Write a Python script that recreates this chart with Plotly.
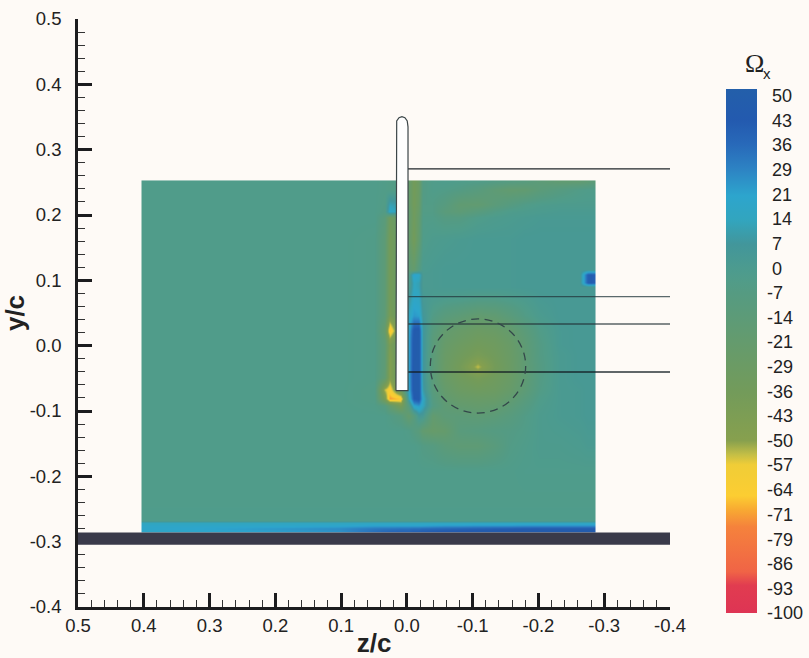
import plotly.graph_objects as go

# field coordinates (z/c across, y/c down the rows)
field_z = [0.4027, 0.4012, 0.3145, 0.1929, 0.1017, 0.0485, 0.0333, 0.0257, 0.0090, -0.0032, -0.0093,
           -0.0169, -0.0245, -0.0382, -0.0579, -0.0807, -0.1081, -0.1339, -0.1567, -0.1795, -0.2023,
           -0.2327, -0.2631, -0.2753, -0.2799, -0.2844, -0.2859]
field_y = [0.2521, 0.2506, 0.2384, 0.2154, 0.2047, 0.1955, 0.1618, 0.1159, 0.1097, 0.0960, 0.0899,
           0.0700, 0.0455, 0.0240, 0.0118, 0.0011, -0.0142, -0.0311, -0.0494, -0.0678, -0.0801,
           -0.0908, -0.1061, -0.1291, -0.1520, -0.1903, -0.2362, -0.2668, -0.2706, -0.2745, -0.2791,
           -0.2837, -0.2852]

# vorticity estimates; edge rows and columns repeat so that the field ends at its true border
omega_rows = [
 [-3,-3,-3,-3,-3,-4,-5,-5,-22,-36,-28,-6,-3,-2,-3,-4,-6,-8,-10,-14,-18,-18,-16,-14,-14],
 [-3,-3,-3,-3,-3,-4,-5,-5,-22,-36,-28,-6,-3,-2,-3,-4,-6,-8,-10,-14,-18,-18,-16,-14,-14],
 [-3,-3,-3,-3,-3,-4,-5,-5,-22,-36,-28,-6,-3,-4,-6,-10,-16,-20,-19,-13,-8,-4,-3,-3,-3],
 [-3,-3,-3,-3,-3,-5,12,8,-22,-36,-26,-5,-5,-9,-18,-19,-13,-8,-4,-2,-1,-1,-1,-1,-1],
 [-3,-3,-3,-3,-3,-6,18,10,-20,-34,-24,-5,-5,-12,-15,-10,-5,-2,-1,0,1,1,1,1,1],
 [-3,-3,-3,-3,-3,-12,-32,-20,-20,-34,-22,-4,-4,-7,-7,-3,-1,0,1,2,2,2,2,2,2],
 [-3,-3,-3,-3,-4,-15,-37,-24,-22,-36,-20,-3,-1,0,1,2,2,2,3,3,3,3,3,3,3],
 [-3,-3,-3,-3,-4,-15,-37,-24,-16,-22,-8,0,1,2,2,2,2,2,3,3,3,3,3,3,3],
 [-3,-3,-3,-3,-4,-15,-37,-24,-6,22,18,1,1,2,2,2,2,2,3,3,3,3,40,42,40],
 [-3,-3,-3,-3,-4,-15,-37,-24,-4,15,12,1,1,2,2,2,2,2,3,3,3,3,40,42,40],
 [-3,-3,-3,-3,-4,-15,-37,-24,-2,15,12,1,1,2,2,2,2,2,3,3,3,3,3,3,3],
 [-3,-3,-3,-3,-4,-15,-37,-24,6,18,16,3,0,-2,-3,-5,-5,-3,-1,2,3,3,3,3,3],
 [-3,-3,-3,-3,-4,-15,-40,-24,14,24,22,6,-5,-11,-15,-20,-18,-12,-5,0,3,3,3,3,3],
 [-3,-3,-3,-3,-4,-22,-68,-28,18,45,47,8,-10,-20,-25,-29,-27,-22,-13,-4,2,3,3,3,3],
 [-3,-3,-3,-3,-4,-18,-52,-24,20,46,48,8,-12,-22,-27,-32,-30,-24,-15,-5,2,3,3,3,3],
 [-3,-3,-3,-3,-4,-16,-42,-22,20,47,48,8,-12,-24,-30,-35,-32,-26,-16,-6,2,3,3,3,3],
 [-3,-3,-3,-3,-4,-16,-45,-22,20,47,48,8,-13,-26,-33,-40,-34,-27,-17,-6,1,3,3,3,3],
 [-3,-3,-3,-3,-4,-16,-47,-22,20,48,48,8,-13,-27,-37,-54,-37,-28,-17,-7,1,3,3,3,3],
 [-3,-3,-3,-3,-4,-18,-47,-22,20,48,48,8,-13,-26,-33,-39,-33,-27,-17,-6,1,3,3,3,3],
 [-3,-3,-3,-3,-5,-54,-62,-28,18,48,48,10,-11,-22,-29,-32,-30,-24,-15,-5,1,2,3,3,3],
 [-3,-3,-3,-3,-5,-40,-72,-66,12,42,46,16,-8,-19,-24,-26,-25,-19,-11,-3,1,2,3,3,3],
 [-3,-3,-3,-3,-4,-8,-20,-38,-8,20,24,14,-6,-16,-20,-22,-20,-15,-8,-2,1,2,3,3,3],
 [-3,-3,-3,-3,-3,-3,-5,-10,-22,-10,4,3,-20,-14,-14,-16,-14,-10,-5,-1,1,2,3,3,3],
 [-3,-3,-3,-3,-3,-3,-3,-3,-4,-8,-12,-20,-24,-22,-11,-9,-7,-6,-4,-1,0,1,2,2,2],
 [-3,-3,-3,-3,-3,-3,-3,-3,-3,-3,-4,-6,-8,-13,-16,-16,-11,-5,-3,-1,-1,0,1,1,1],
 [-3,-3,-3,-3,-3,-3,-3,-3,-3,-3,-3,-3,-3,-3,-3,-3,-3,-3,-2,-2,-2,-2,-2,-2,-2],
 [-3,-3,-3,-3,-3,-3,-3,-3,-3,-3,-3,-3,-3,-3,-3,-3,-3,-3,-3,-3,-3,-3,-3,-3,-3],
 [-2,-2,-2,-2,-2,-2,-2,-2,-2,-2,-2,-2,-2,-2,-2,-2,-2,-2,-2,-2,-2,-2,-2,-2,-2],
 [14,14,14,14,14,14,14,14,14,14,14,14,14,14,14,14,14,14,14,14,14,14,14,14,14],
 [18,18,19,20,22,22,22,22,22,22,22,22,23,24,24,25,25,25,26,26,26,26,26,26,26],
 [19,21,24,27,32,33,33,34,34,35,35,36,37,38,39,40,41,42,43,44,44,44,44,44,44],
 [18,19,22,25,34,36,37,38,38,40,40,41,42,44,45,46,46,46,46,46,46,46,46,46,46],
 [18,19,22,25,34,36,37,38,38,40,40,41,42,44,45,46,46,46,46,46,46,46,46,46,46],
]
omega = [[r[0]] + r + [r[-1]] for r in omega_rows]

scale_values = [-100, -92, -88, -75, -70, -66, -57, -54, -50, -36, -21, -7, -3, 0, 7, 14, 21, 29, 36, 43, 52]
scale_colors = ["rgb(222,52,84)", "rgb(225,60,80)", "rgb(240,100,70)", "rgb(245,130,60)", "rgb(248,170,50)",
                "rgb(252,205,50)", "rgb(240,205,55)", "rgb(195,190,70)", "rgb(135,160,78)", "rgb(115,155,90)",
                "rgb(100,155,110)", "rgb(85,155,130)", "rgb(80,156,138)", "rgb(76,155,143)", "rgb(66,150,155)",
                "rgb(50,165,190)", "rgb(45,165,205)", "rgb(45,130,195)", "rgb(40,105,185)", "rgb(35,90,175)",
                "rgb(35,95,170)"]
z_min, z_max = scale_values[0], scale_values[-1]
colorscale = [[(v - z_min) / (z_max - z_min), c] for v, c in zip(scale_values, scale_colors)]

bar_ticks = [50, 42.9, 35.7, 28.6, 21.4, 14.3, 7.1, 0, -7.1, -14.3, -21.4, -28.6, -35.7, -42.9, -50,
             -57.1, -64.3, -71.4, -78.6, -85.7, -92.9, -100]
bar_labels = ["\u00a050", "\u00a043", "\u00a036", "\u00a029", "\u00a021", "\u00a014", "\u00a07", "\u00a00",
              "-7", "-14", "-21", "-29", "-36", "-43", "-50",
              "-57", "-64", "-71", "-79", "-86", "-93", "-100"]

x_ticks = [0.5, 0.4, 0.3, 0.2, 0.1, 0.0, -0.1, -0.2, -0.3, -0.4]
x_labels = ["0.5", "0.4", "0.3", "0.2", "0.1", "0.0", "-0.1", "-0.2", "-0.3", "-0.4"]
y_ticks = [0.5, 0.4, 0.3, 0.2, 0.1, 0.0, -0.1, -0.2, -0.3, -0.4]
y_labels = ["0.5", "0.4", "0.3", "0.2", "0.1", "0.0", "-0.1", "-0.2", "-0.3", "-0.4"]

ground_z = [0.5, -0.4, -0.4, 0.5, 0.5]
ground_y = [-0.2860, -0.2860, -0.3049, -0.3049, -0.2860]

wing_z = [0.0166, 0.0166, 0.0155, 0.0120, 0.0075, 0.0030, -0.0005, -0.0017, -0.0017, 0.0166]
wing_y = [-0.0689, 0.3350, 0.3440, 0.3490, 0.3505, 0.3490, 0.3440, 0.3350, -0.0689, -0.0689]

rake_z = [-0.0017, -0.4]
rake_y = [0.2705, 0.0750, 0.0332, -0.0403]
rake_colors = ["rgba(20,25,30,0.95)", "rgba(35,55,60,0.75)", "rgba(35,50,55,0.75)", "rgba(20,30,35,0.9)"]

vortex_z = [-0.0356, -0.1806]
vortex_y = [-0.1031, 0.0409]

PAPER = "#fefaf6"
INK = "#1c1c1e"
FONT = "Liberation Sans"

fig = go.Figure()
fig.add_trace(go.Heatmap(
    x=field_z, y=field_y, z=omega, zmin=z_min, zmax=z_max, zsmooth="best",
    colorscale=colorscale, hoverinfo="skip",
    colorbar=dict(
        tickmode="array", tickvals=bar_ticks, ticktext=bar_labels,
        ticks="outside", ticklen=7, tickcolor="rgba(0,0,0,0)", outlinewidth=0,
        thickness=31, thicknessmode="pixels", len=524, lenmode="pixels",
        x=1.0946, xanchor="left", xpad=0, ypad=0, y=0.881, yanchor="top",
        tickfont=dict(family=FONT, size=18, color="#222"),
    ),
))
fig.add_trace(go.Scatter(x=ground_z, y=ground_y, mode="lines", fill="toself",
                         fillcolor="#3a3a4a", line=dict(width=0), hoverinfo="skip", showlegend=False))
for yv, col in zip(rake_y, rake_colors):
    fig.add_trace(go.Scatter(x=rake_z, y=[yv, yv], mode="lines", line=dict(color=col, width=1.3),
                             hoverinfo="skip", showlegend=False))
fig.add_trace(go.Scatter(x=wing_z, y=wing_y, mode="lines", fill="toself", fillcolor="#fefefe",
                         line=dict(color="#3c4648", width=1.2), hoverinfo="skip", showlegend=False))

fig.add_shape(type="circle", xref="x", yref="y", x0=vortex_z[0], x1=vortex_z[1], y0=vortex_y[0], y1=vortex_y[1],
              line=dict(color="#33474a", width=1.3, dash="8px,5.5px"))

fig.add_annotation(xref="paper", yref="paper", x=1.1419, y=0.925, xanchor="center", yanchor="middle", showarrow=False,
                   text="Ω", font=dict(family="Liberation Serif", size=26, color="#222"))
fig.add_annotation(xref="paper", yref="paper", x=1.1639, y=0.908, xanchor="center", yanchor="middle", showarrow=False,
                   text="x", font=dict(family=FONT, size=15, color="#222"))

axis_common = dict(
    showgrid=False, zeroline=False, showline=True, linecolor=INK, linewidth=2.5, layer="below traces",
    ticks="inside", ticklen=14, tickwidth=2.5, tickcolor=INK, tickmode="array",
    tickfont=dict(family=FONT, size=18.5, color="#222"),
    minor=dict(dtick=0.02, ticks="inside", ticklen=7, tickwidth=1, tickcolor="#333", showgrid=False),
)
fig.update_xaxes(range=[0.5, -0.4], tickvals=x_ticks, ticktext=x_labels,
                 title=dict(text="<b>z/c</b>", font=dict(family=FONT, size=26, color="#222"), standoff=5),
                 **axis_common)
fig.update_yaxes(range=[-0.4, 0.5], tickvals=y_ticks, ticktext=y_labels, ticklabelstandoff=10,
                 title=dict(text="<b>y/c</b>", font=dict(family=FONT, size=26, color="#222"), standoff=5),
                 **axis_common)
fig.update_layout(
    width=809, height=658, paper_bgcolor=PAPER, plot_bgcolor=PAPER, showlegend=False,
    margin=dict(l=78, r=139, t=19, b=51, autoexpand=False),
)
fig.write_html("out.html", config={"displayModeBar": False},
               post_script="document.body.style.margin='0';document.body.style.background='#fefaf6';document.body.style.overflow='hidden';")
